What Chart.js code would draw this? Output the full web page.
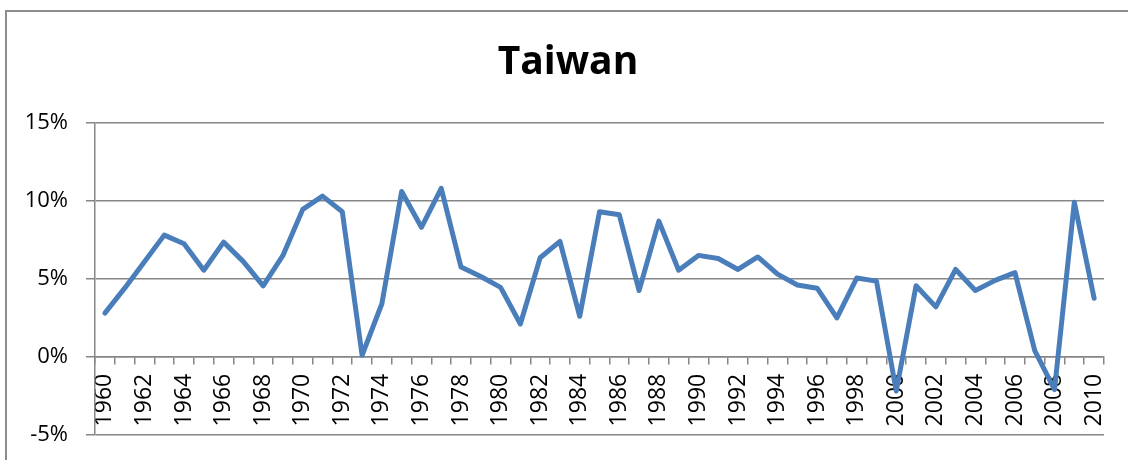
<!DOCTYPE html>
<html>
<head>
<meta charset="UTF-8" />
<title>Taiwan</title>
<script src="https://cdn.jsdelivr.net/npm/chart.js@4.4.1/dist/chart.umd.min.js"></script>
<style>
html, body { margin: 0; padding: 0; overflow: hidden; background: #fff; }
#frame { position: absolute; left: 5px; top: 10px; width: 1300px; height: 700px; border: 2px solid #8c8c8c; }
#box { position: absolute; left: 0; top: 0; width: 1136px; height: 466px; }
</style>
</head>
<body>
<div id="frame"></div>
<div id="box"><canvas id="chart"></canvas></div>
<script>
// years on the category axis
var years = [];
for (var y = 1960; y <= 2010; y++) years.push(String(y));

// growth, percent
var growth = [
	2.8, 4.4, 6.1, 7.8, 7.25, 5.55, 7.35, 6.1, 4.55, 6.5,
	9.45, 10.3, 9.3, 0.1, 3.4, 10.6, 8.3, 10.8, 5.75, 5.15,
	4.45, 2.1, 6.35, 7.4, 2.6, 9.3, 9.1, 4.25, 8.7, 5.55,
	6.5, 6.3, 5.6, 6.4, 5.3, 4.6, 4.4, 2.5, 5.05, 4.85,
	-2.2, 4.55, 3.2, 5.6, 4.25, 4.9, 5.4, 0.4, -2.1, 9.9,
	3.75
];

var yMin = -5, yMax = 15, yStep = 5;

Chart.defaults.color = '#000';
Chart.defaults.font.family = "'Open Sans', 'Liberation Sans', Arial, sans-serif";

var gridColor = '#868686';

new Chart(document.getElementById('chart'), {
	type: 'line',
	data: {
		labels: years,
		datasets: [{
			label: 'Taiwan',
			data: growth,
			borderColor: '#4a7ebb',
			borderWidth: 5,
			borderJoinStyle: 'round',
			borderCapStyle: 'round',
			pointRadius: 0,
			tension: 0,
			fill: false
		}]
	},
	options: {
		responsive: true,
		maintainAspectRatio: false,
		animation: false,
		layout: { padding: { left: 0, right: 0, top: 0, bottom: 20 } },
		plugins: {
			legend: { display: false },
			tooltip: { enabled: false },
			title: {
				display: true,
				text: 'Taiwan',
				color: '#000',
				font: { family: "'Open Sans', 'Liberation Sans', sans-serif", size: 39, weight: 'bold' },
				padding: { top: 39, bottom: 37 }
			}
		},
		scales: {
			x: {
				position: { y: 0 },
				offset: true,
				grid: {
					offset: true,
					drawOnChartArea: false,
					drawTicks: true,
					tickLength: 7,
					color: gridColor,
					lineWidth: 1.5
				},
				border: { display: true, color: gridColor, width: 1.5 },
				ticks: {
					autoSkip: false,
					maxRotation: 90,
					minRotation: 90,
					padding: 10,
					font: { size: 23 },
					callback: function(v, i) {
						var yr = Number(years[i]);
						return yr % 2 === 0 ? years[i] : '';
					}
				},
				afterFit: function(s) { s.height = 0; }
			},
			y: {
				min: yMin,
				max: yMax,
				grid: {
					color: gridColor,
					lineWidth: 1.5,
					drawTicks: true,
					tickLength: 9
				},
				border: { display: true, color: gridColor, width: 1.5 },
				ticks: {
					stepSize: yStep,
					padding: 18,
					font: { size: 22 },
					callback: function(v) { return v + '%'; }
				},
				afterFit: function(s) { s.width = 95; }
			},
			// empty right-hand box, only keeps room at the right edge
			y2: {
				position: 'right',
				display: true,
				grid: { display: false },
				border: { display: false },
				ticks: { display: false },
				afterFit: function(s) { s.width = 32; }
			}
		}
	}
});
</script>
</body>
</html>
